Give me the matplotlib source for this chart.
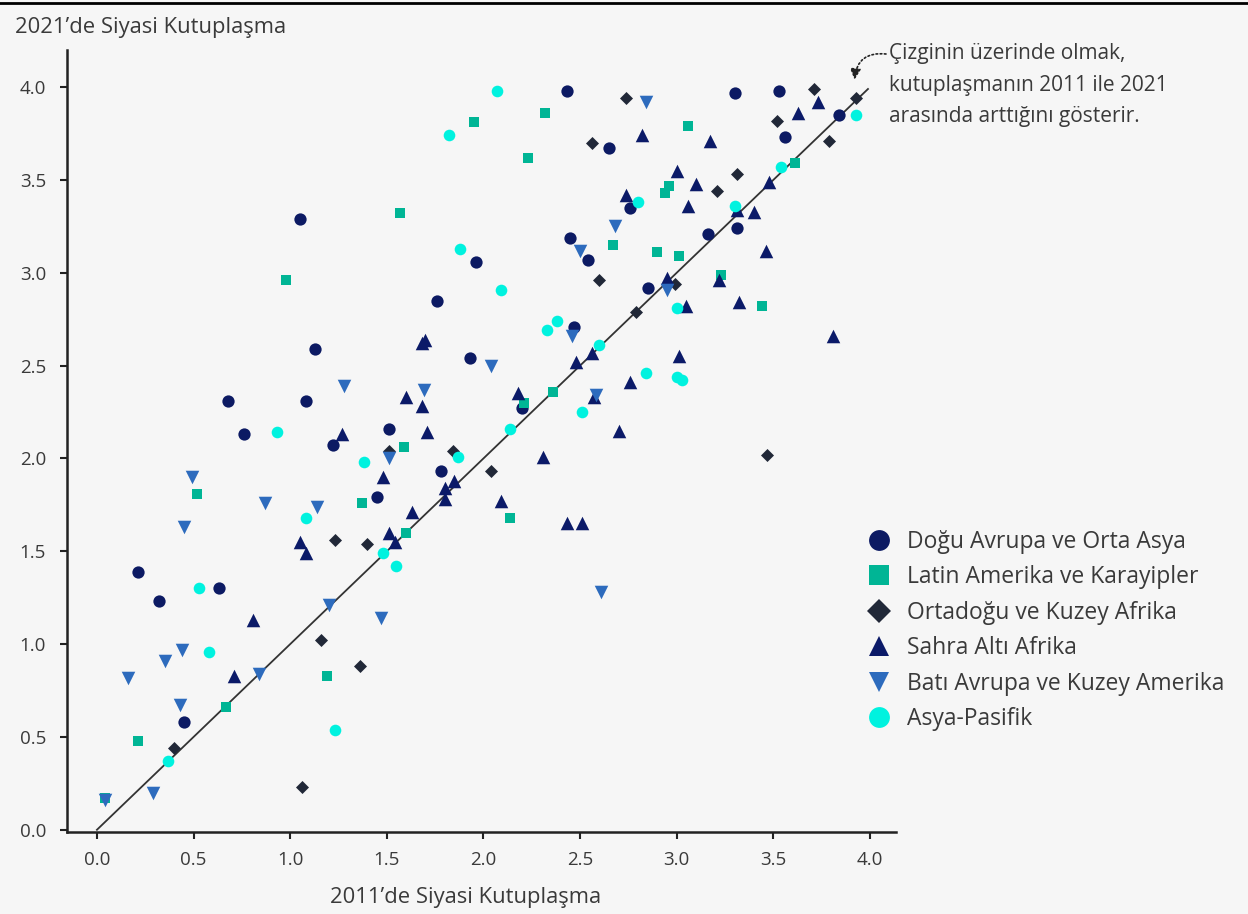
import matplotlib
matplotlib.use("Agg")
import matplotlib.pyplot as plt
from matplotlib.lines import Line2D

plt.rcParams['font.family'] = ['Open Sans', 'DejaVu Sans']

# veri: (2011, 2021) degerleri, gorselden okunmustur
dogu_x = [2.43, 3.30, 3.53, 3.84, 3.56, 2.65, 1.05, 2.76, 3.16, 3.31, 2.45, 2.54, 1.96, 1.76, 2.85,
          1.13, 1.93, 2.47, 0.68, 1.08, 2.20, 1.51, 1.22, 0.76, 1.78, 1.45, 0.21, 0.63, 0.32, 0.45]
dogu_y = [3.98, 3.97, 3.98, 3.85, 3.73, 3.67, 3.29, 3.35, 3.21, 3.24, 3.19, 3.07, 3.06, 2.85, 2.92,
          2.59, 2.54, 2.71, 2.31, 2.31, 2.27, 2.16, 2.07, 2.13, 1.93, 1.79, 1.39, 1.30, 1.23, 0.58]

latin_x = [2.32, 1.95, 3.06, 2.23, 1.57, 0.98, 2.96, 2.94, 2.67, 2.90, 3.01, 3.23, 3.44, 3.61,
           2.36, 2.21, 2.14, 1.59, 1.37, 0.52, 1.60, 1.19, 0.21, 0.67, 0.04]
latin_y = [3.86, 3.81, 3.79, 3.62, 3.32, 2.96, 3.47, 3.43, 3.15, 3.11, 3.09, 2.99, 2.82, 3.59,
           2.36, 2.30, 1.68, 2.06, 1.76, 1.81, 1.60, 0.83, 0.48, 0.66, 0.17]

orta_x = [3.71, 2.74, 3.52, 3.93, 3.79, 2.56, 3.31, 3.21, 2.60, 2.99, 2.79, 3.47, 1.51, 1.84,
          1.23, 1.40, 1.16, 1.36, 0.40, 1.06, 2.04]
orta_y = [3.99, 3.94, 3.82, 3.94, 3.71, 3.70, 3.53, 3.44, 2.96, 2.94, 2.79, 2.02, 2.04, 2.04,
          1.56, 1.54, 1.02, 0.88, 0.44, 0.23, 1.93]

sahra_x = [3.73, 3.63, 2.82, 3.17, 3.00, 3.10, 2.74, 3.06, 3.48, 3.31, 3.40, 3.46, 2.95, 3.22,
           3.05, 3.32, 3.81, 3.01, 2.76, 2.48, 2.56, 2.18, 2.57, 2.70, 2.31, 2.09, 2.43, 2.51,
           1.27, 1.71, 1.48, 1.80, 1.85, 1.80, 1.63, 1.51, 1.54, 1.05, 1.08, 0.81, 0.71,
           1.70, 1.68, 1.60, 1.68]
sahra_y = [3.92, 3.86, 3.74, 3.71, 3.55, 3.48, 3.42, 3.36, 3.49, 3.34, 3.33, 3.12, 2.97, 2.96,
           2.82, 2.84, 2.66, 2.55, 2.41, 2.52, 2.57, 2.35, 2.33, 2.15, 2.01, 1.77, 1.65, 1.65,
           2.13, 2.14, 1.90, 1.84, 1.88, 1.78, 1.71, 1.60, 1.55, 1.55, 1.49, 1.13, 0.83,
           2.64, 2.62, 2.33, 2.28]

bati_x = [2.84, 2.68, 2.50, 2.95, 2.46, 2.04, 2.58, 1.28, 1.69, 0.49, 0.87, 1.14, 0.45, 1.51,
          1.20, 1.47, 0.44, 0.35, 0.16, 0.84, 0.43, 0.29, 2.61, 0.04]
bati_y = [3.92, 3.25, 3.12, 2.91, 2.66, 2.50, 2.34, 2.39, 2.37, 1.90, 1.76, 1.74, 1.63, 2.00,
          1.21, 1.14, 0.97, 0.91, 0.82, 0.84, 0.67, 0.20, 1.28, 0.16]

asya_x = [2.07, 1.82, 1.88, 3.54, 3.93, 2.80, 3.30, 2.09, 2.38, 2.33, 3.00, 2.60, 2.84, 3.00,
          3.03, 2.51, 2.14, 0.93, 1.38, 1.87, 1.08, 1.48, 1.55, 0.53, 0.58, 1.23, 0.37]
asya_y = [3.98, 3.74, 3.13, 3.57, 3.85, 3.38, 3.36, 2.91, 2.74, 2.69, 2.81, 2.61, 2.46, 2.44,
          2.42, 2.25, 2.16, 2.14, 1.98, 2.01, 1.68, 1.49, 1.42, 1.30, 0.96, 0.54, 0.37]

groups = [
    ("Doğu Avrupa ve Orta Asya", dogu_x, dogu_y, "o", "#0c1a63", 78),
    ("Latin Amerika ve Karayipler", latin_x, latin_y, "s", "#00b595", 62),
    ("Ortadoğu ve Kuzey Afrika", orta_x, orta_y, "D", "#212838", 44),
    ("Sahra Altı Afrika", sahra_x, sahra_y, "^", "#0b1a68", 95),
    ("Batı Avrupa ve Kuzey Amerika", bati_x, bati_y, "v", "#2d6bbd", 95),
    ("Asya-Pasifik", asya_x, asya_y, "o", "#00f2df", 70),
]

bg = "#f6f6f6"
txt = "#3a3a3a"
fig = plt.figure(figsize=(12.48, 9.14), dpi=100, facecolor=bg)
ax = fig.add_axes([67 / 1248, 1 - 832 / 914, (896 - 67) / 1248, (832 - 50) / 914])
ax.set_facecolor(bg)

for name, xs, ys, m, c, s in groups:
    ax.scatter(xs, ys, marker=m, s=s, color=c, linewidths=0, zorder=3)

# 45 derece cizgisi
ax.plot([0, 3.99], [0, 3.99], color="#333333", lw=1.3, zorder=2)

ax.set_xlim(-0.155, 4.135)
ax.set_ylim(-0.012, 4.2)
ticks = [0.0, 0.5, 1.0, 1.5, 2.0, 2.5, 3.0, 3.5, 4.0]
ax.set_xticks(ticks)
ax.set_yticks(ticks)
ax.set_xticklabels([f"{t:.1f}" for t in ticks])
ax.set_yticklabels([f"{t:.1f}" for t in ticks])
for sp in ["top", "right"]:
    ax.spines[sp].set_visible(False)
for sp in ["left", "bottom"]:
    ax.spines[sp].set_linewidth(1.8)
    ax.spines[sp].set_color("#222222")
ax.tick_params(direction="out", length=5, width=1.5, color="#222222",
               labelsize=13.5, labelcolor=txt)
ax.tick_params(axis="x", pad=9)
ax.tick_params(axis="y", pad=10)

fig.text(15 / 1248, 1 - 27 / 914, "2021’de Siyasi Kutuplaşma", fontsize=15.8,
         color=txt, va="center", ha="left")
fig.text(466 / 1248, 1 - 898 / 914, "2011’de Siyasi Kutuplaşma", fontsize=15.8,
         color=txt, va="center", ha="center")

# ust cerceve cizgisi
fig.add_artist(Line2D([0, 1], [1 - 3 / 914, 1 - 3 / 914], transform=fig.transFigure,
                      color="black", lw=2))

# not ve ok
fig.text(889 / 1248, 1 - 85 / 914,
         "Çizginin üzerinde olmak,\nkutuplaşmanın 2011 ile 2021\narasında arttığını gösterir.",
         fontsize=15, color=txt, va="center", ha="left", linespacing=1.68)
ax.annotate("", xy=(3.92, 4.04), xycoords="data",
            xytext=(886 / 1248, 1 - 54 / 914), textcoords="figure fraction",
            arrowprops=dict(arrowstyle="-|>", linestyle=(0, (1, 1.5)), color="#222222",
                            lw=1.2, connectionstyle="arc3,rad=0.5", mutation_scale=16,
                            shrinkA=0, shrinkB=0))

handles = [Line2D([], [], marker=m, color=c, linestyle="none", markersize=15 if m != "D" else 12,
                  markeredgewidth=0) for name, xs, ys, m, c, s in groups]
labels = [g[0] for g in groups]
fig.legend(handles, labels, loc="upper left", bbox_to_anchor=(867.5 / 1248, 1 - 530 / 914),
           frameon=False, fontsize=16.5, labelcolor=txt, handlelength=1.0,
           handletextpad=0.72, labelspacing=0.5, borderaxespad=0, borderpad=0)

fig.savefig("out.png", dpi=100, facecolor=bg)
